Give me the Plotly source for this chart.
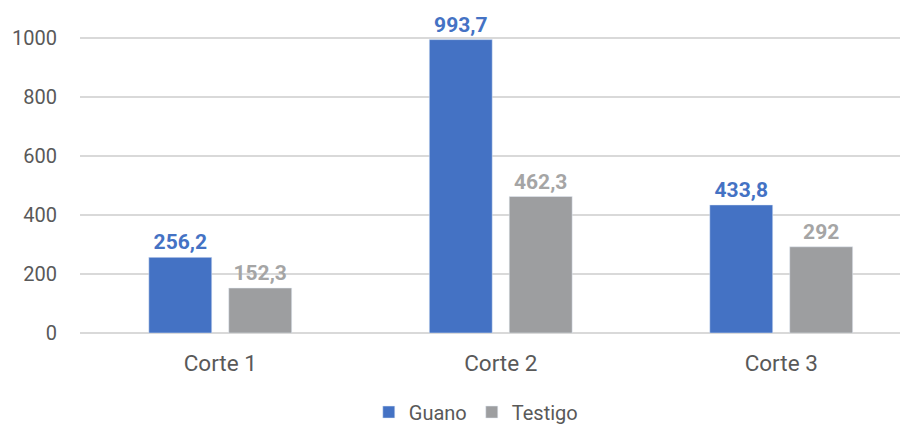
import plotly.graph_objects as go

categories = ["Corte 1", "Corte 2", "Corte 3"]
guano = [256.2, 993.7, 433.8]
testigo = [152.3, 462.3, 292]
guano_labels = ["256,2", "993,7", "433,8"]
testigo_labels = ["152,3", "462,3", "292"]
y_ticks = [0, 200, 400, 600, 800, 1000]

blue = "#4472C4"
grey = "#9D9EA0"
grey_label = "#A5A5A5"
text_color = "#595959"

fig = go.Figure()
fig.add_trace(go.Bar(
    name="Guano", x=categories, y=guano, marker_color=blue,
    text=guano_labels, textposition="outside", cliponaxis=False,
    textfont=dict(family="Roboto", size=21, color=blue, weight="bold"),
))
fig.add_trace(go.Bar(
    name="Testigo", x=categories, y=testigo, marker_color=grey,
    text=testigo_labels, textposition="outside", cliponaxis=False,
    textfont=dict(family="Roboto", size=21, color=grey_label, weight="bold"),
))

fig.update_layout(
    width=900, height=419,
    margin=dict(l=72, r=0, t=15, b=94, autoexpand=False),
    paper_bgcolor="white", plot_bgcolor="white",
    barmode="group", bargap=0.43, bargroupgap=0.2125,
    font=dict(family="Roboto", color=text_color),
    showlegend=True,
    legend=dict(orientation="h", x=0.478, xref="paper", xanchor="center",
                y=-0.255, yanchor="middle", font=dict(size=20, color=text_color),
                itemwidth=30, traceorder="normal", borderwidth=0),
    uniformtext=dict(mode=False),
)
fig.update_xaxes(range=[-0.5, 2.452], showgrid=False, zeroline=False,
                 showline=False, ticks="", tickfont=dict(size=22.5, color=text_color),
                 ticklabelstandoff=14, automargin=False)
fig.update_yaxes(range=[0, 1050], tickvals=y_ticks, showgrid=True,
                 gridcolor="#D9D9D9", gridwidth=1.5, zeroline=True,
                 zerolinecolor="#D9D9D9", zerolinewidth=1.5,
                 tickfont=dict(size=20, color=text_color), ticks="",
                 ticklabelstandoff=22, showline=False, automargin=False)

fig.write_html("out.html")
